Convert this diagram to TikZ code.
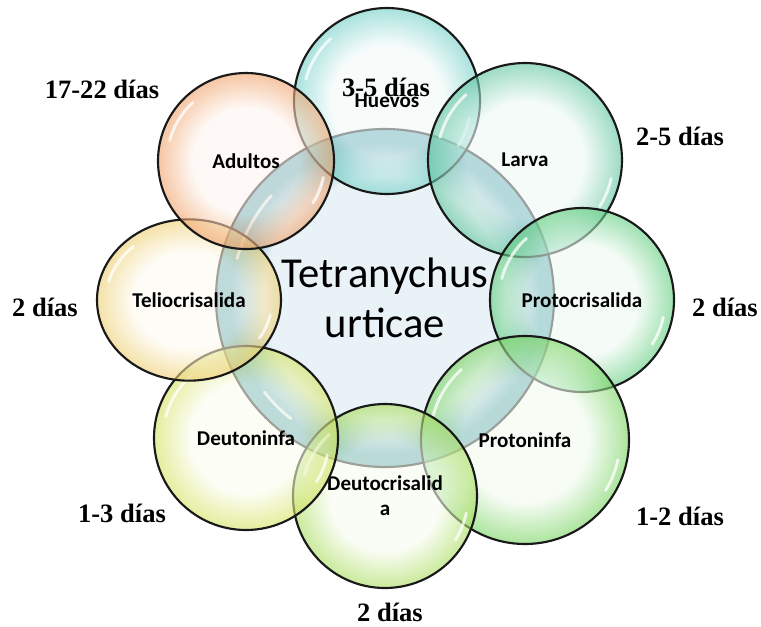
\documentclass[tikz,border=0pt]{standalone}
\usepackage{fontspec}
\setmainfont{Liberation Serif}
\setsansfont{Carlito}
\usetikzlibrary{shapes.geometric}

\makeatletter
\pgfdeclareradialshading[tikz@radial@inner,tikz@radial@outer]{bubble}{\pgfpointorigin}{%
  color(0bp)=(tikz@radial@inner);
  color(15bp)=(tikz@radial@inner);
  color(25bp)=(tikz@radial@outer);
  color(50bp)=(tikz@radial@outer)}
\pgfdeclareradialshading[tikz@radial@inner,tikz@radial@outer]{ring}{\pgfpointorigin}{%
  color(0bp)=(tikz@radial@inner);
  color(18bp)=(tikz@radial@inner);
  color(23bp)=(tikz@radial@outer);
  color(50bp)=(tikz@radial@outer)}
\makeatother

\definecolor{hubIn}{RGB}{233,242,246}
\definecolor{hubOut}{RGB}{96,170,184}
\definecolor{huevosC}{RGB}{112,206,198}
\definecolor{larvaC}{RGB}{92,196,156}
\definecolor{protocrisC}{RGB}{92,204,122}
\definecolor{protoninfaC}{RGB}{116,210,92}
\definecolor{deutocrisC}{RGB}{166,220,88}
\definecolor{deutoninfaC}{RGB}{210,226,92}
\definecolor{teliocrisC}{RGB}{238,206,110}
\definecolor{adultosC}{RGB}{240,160,104}

\tikzset{every picture/.style={line width=0.75pt}}

\begin{document}
\begin{tikzpicture}[
            x=0.75pt,
            y=0.75pt,
            yscale=-1,
            xscale=1,
            every node/.style={text=black},
            line width=0.75pt,
            hub/.style={circle, inner sep=0pt, draw=black!90, line width=1.6pt, inner color=hubIn, outer color=hubOut, shading=ring, align=center, font=\sffamily\fontsize{32}{38}\selectfont},
            stage/.style={circle, inner sep=0pt, draw=black!90, line width=1.6pt, fill opacity=0.6, text opacity=1, inner color=#1!10, outer color=#1, shading=bubble, align=center, font=\sffamily\bfseries\fontsize{15.8}{18.8}\selectfont},
            gloss/.style={draw=white, line width=2.2pt, line cap=round, draw opacity=0.75},
            days/.style={font=\bfseries\fontsize{19.9}{24}\selectfont}
        ]
            \useasboundingbox (0,0) rectangle (761,626);
            \node[hub, minimum size=253.5pt] (mite) at (385,298) {Tetranychus\\urticae};
            \draw[gloss] (mite.center) ++(195:153) arc[start angle=195, end angle=222, radius=153];
            \draw[gloss] (mite.center) ++(128:153) arc[start angle=128, end angle=142, radius=153];
            \node[stage=huevosC, minimum size=139.5pt] (huevos) at (387,101) {Huevos};
            \draw[gloss] (huevos.center) ++(195:84) arc[start angle=195, end angle=228, radius=84];
            \draw[gloss] (huevos.center) ++(12:84) arc[start angle=12, end angle=32, radius=84];
            \node[stage=larvaC, minimum size=145.5pt] (larva) at (525,160) {Larva};
            \draw[gloss] (larva.center) ++(195:88) arc[start angle=195, end angle=228, radius=88];
            \draw[gloss] (larva.center) ++(12:88) arc[start angle=12, end angle=32, radius=88];
            \node[stage=protocrisC, minimum size=138pt] (protocris) at (582,300) {Protocrisalida};
            \draw[gloss] (protocris.center) ++(195:83) arc[start angle=195, end angle=228, radius=83];
            \draw[gloss] (protocris.center) ++(12:83) arc[start angle=12, end angle=32, radius=83];
            \node[stage=protoninfaC, minimum size=156pt] (protoninfa) at (525,440) {Protoninfa};
            \draw[gloss] (protoninfa.center) ++(195:95) arc[start angle=195, end angle=228, radius=95];
            \draw[gloss] (protoninfa.center) ++(12:95) arc[start angle=12, end angle=32, radius=95];
            \node[stage=deutocrisC, minimum size=138pt] (deutocris) at (385,496) {Deutocrisalid\\a};
            \draw[gloss] (deutocris.center) ++(195:83) arc[start angle=195, end angle=228, radius=83];
            \draw[gloss] (deutocris.center) ++(12:83) arc[start angle=12, end angle=32, radius=83];
            \node[stage=deutoninfaC, minimum size=138pt] (deutoninfa) at (246,438) {Deutoninfa};
            \draw[gloss] (deutoninfa.center) ++(195:83) arc[start angle=195, end angle=228, radius=83];
            \draw[gloss] (deutoninfa.center) ++(12:83) arc[start angle=12, end angle=32, radius=83];
            \node[stage=teliocrisC, ellipse, minimum width=138pt, minimum height=121pt] (teliocris) at (189,300) {Teliocrisalida};
            \draw[gloss] (teliocris.center) ++(195:83 and 72) arc[start angle=195, end angle=228, x radius=83, y radius=72];
            \draw[gloss] (teliocris.center) ++(12:83 and 72) arc[start angle=12, end angle=32, x radius=83, y radius=72];
            \node[stage=adultosC, minimum size=132pt] (adultos) at (246,161) {Adultos};
            \draw[gloss] (adultos.center) ++(195:79) arc[start angle=195, end angle=228, radius=79];
            \draw[gloss] (adultos.center) ++(12:79) arc[start angle=12, end angle=32, radius=79];
            \node[days] (dHuevos) at (386,87) {3-5 días};
            \node[days] (dLarva) at (680,136) {2-5 días};
            \node[days] (dProtocris) at (725,307) {2 días};
            \node[days] (dProtoninfa) at (680,516) {1-2 días};
            \node[days] (dDeutocris) at (390,612) {2 días};
            \node[days] (dDeutoninfa) at (122,513) {1-3 días};
            \node[days] (dTeliocris) at (45,307) {2 días};
            \node[days] (dAdultos) at (102,89) {17-22 días};
        \end{tikzpicture}
\end{document}
